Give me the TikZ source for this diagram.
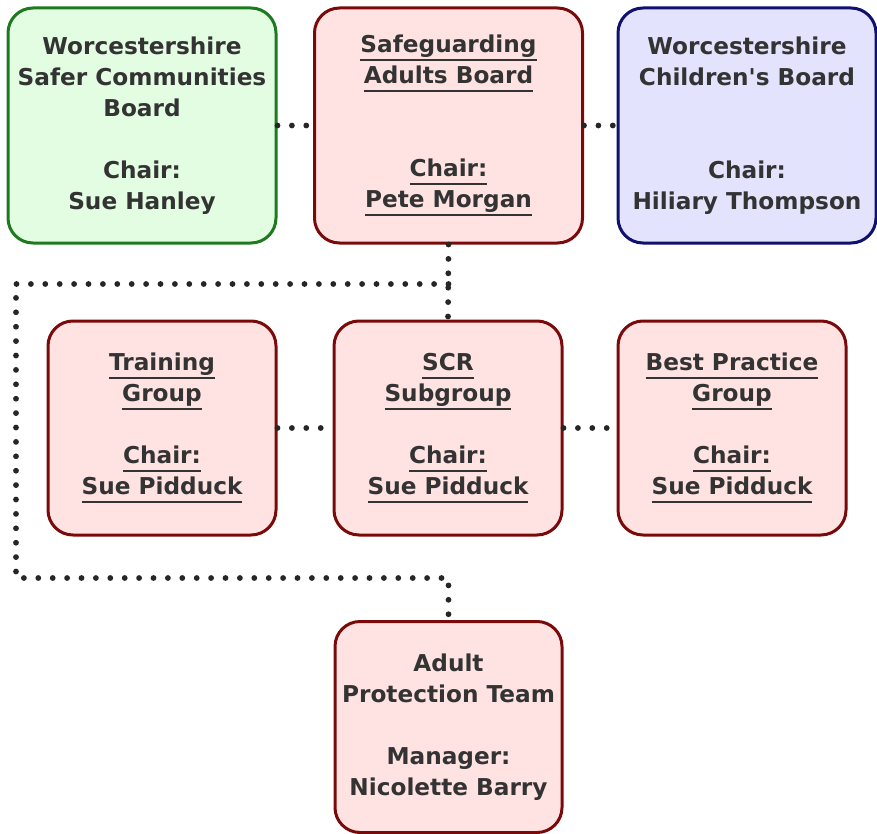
\documentclass[tikz,border=0pt]{standalone}
\usepackage{fontspec}
\setmainfont{DejaVu Sans}
\definecolor{txtgray}{HTML}{333333}
\definecolor{grnfill}{HTML}{E2FDE2}
\definecolor{grnedge}{HTML}{1E7A1E}
\definecolor{pnkfill}{HTML}{FFE3E3}
\definecolor{pnkedge}{HTML}{7A0A0A}
\definecolor{blufill}{HTML}{E3E3FD}
\definecolor{bluedge}{HTML}{10106E}
\newcommand{\ulline}[1]{\setbox0\hbox{#1}\leavevmode\rlap{\rule[-4pt]{\wd0}{0.9pt}}\box0}

\begin{document}
\begin{tikzpicture}[x=0.5pt, y=-0.5pt,
    box/.style={rounded corners=12.5pt, line width=1.5pt, align=center,
      text=txtgray, inner sep=0pt,
      font=\fontsize{11.6}{15.5}\selectfont\bfseries},
    greenbox/.style={box, draw=grnedge, fill=grnfill},
    pinkbox/.style={box, draw=pnkedge, fill=pnkfill},
    bluebox/.style={box, draw=bluedge, fill=blufill},
    bigsize/.style={minimum width=134pt, minimum height=117.5pt},
    smallsize/.style={minimum width=114pt, minimum height=107pt},
    linkdots/.style={draw=black!85, line width=2.9pt, line cap=round,
      dash pattern=on 0pt off 7.2pt}]
  \useasboundingbox (0,0) rectangle (877,834);

  % Boards
  \node[greenbox, bigsize] (wscb) at (142,125.5)
    {Worcestershire\\Safer Communities\\Board\\[15.5pt]Chair:\\Sue Hanley};
  \node[pinkbox, bigsize] (sab) at (448.5,125.5)
    {\ulline{Safeguarding}\\\ulline{Adults Board}\\[31pt]\ulline{Chair:}\\\ulline{Pete Morgan}};
  \node[bluebox, bigsize, minimum width=129pt] (wcb) at (747,125.5)
    {Worcestershire\\Children\textquotesingle s Board\\[31pt]Chair:\\Hiliary Thompson};
  \draw[linkdots] (wscb.east) -- (sab.west);
  \draw[linkdots] (sab.east) -- (wcb.west);

  % Subgroups
  \node[pinkbox, smallsize] (trg) at (162,428)
    {\ulline{Training}\\\ulline{Group}\\[15.5pt]\ulline{Chair:}\\\ulline{Sue Pidduck}};
  \node[pinkbox, smallsize] (scr) at (448,428)
    {\ulline{SCR}\\\ulline{Subgroup}\\[15.5pt]\ulline{Chair:}\\\ulline{Sue Pidduck}};
  \node[pinkbox, smallsize] (bpg) at (732,428)
    {\ulline{Best Practice}\\\ulline{Group}\\[15.5pt]\ulline{Chair:}\\\ulline{Sue Pidduck}};
  \draw[linkdots] (trg.east) -- (scr.west);
  \draw[linkdots] (scr.east) -- (bpg.west);

  % Team
  \node[pinkbox, minimum width=113.5pt, minimum height=105.5pt] (apt) at (448.5,727)
    {Adult\\Protection Team\\[15.5pt]Manager:\\Nicolette Barry};

  \coordinate (loopnw) at (16,284);
  \coordinate (loopsw) at (16,578);
  \draw[linkdots] (sab.south) -- (scr.north);
  \draw[linkdots] (sab.south |- loopnw) -- (loopnw) -- (loopsw)
    -- (loopsw -| apt.north) -- (apt.north);
\end{tikzpicture}
\end{document}
